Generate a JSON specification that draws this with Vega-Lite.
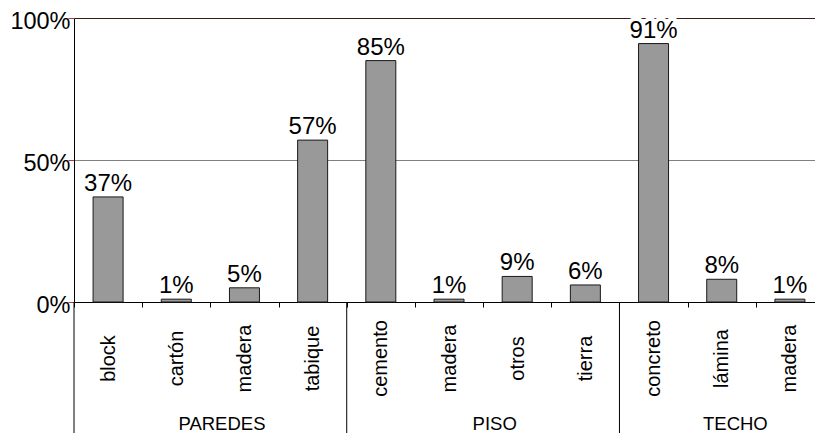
{
  "$schema": "https://vega.github.io/schema/vega-lite/v6.json",
  "width": 741,
  "height": 284,
  "autosize": {"type": "none"},
  "padding": {"left": 74, "top": 18, "right": 0, "bottom": 131},
  "background": "white",
  "config": {"view": {"stroke": null}, "font": "Liberation Sans"},
  "data": {
    "values": [
      {"clave": "PAREDES|block", "grupo": "PAREDES", "material": "block", "porcentaje": 0.37},
      {"clave": "PAREDES|cartón", "grupo": "PAREDES", "material": "cartón", "porcentaje": 0.01},
      {"clave": "PAREDES|madera", "grupo": "PAREDES", "material": "madera", "porcentaje": 0.05},
      {"clave": "PAREDES|tabique", "grupo": "PAREDES", "material": "tabique", "porcentaje": 0.57},
      {"clave": "PISO|cemento", "grupo": "PISO", "material": "cemento", "porcentaje": 0.85},
      {"clave": "PISO|madera", "grupo": "PISO", "material": "madera", "porcentaje": 0.01},
      {"clave": "PISO|otros", "grupo": "PISO", "material": "otros", "porcentaje": 0.09},
      {"clave": "PISO|tierra", "grupo": "PISO", "material": "tierra", "porcentaje": 0.06},
      {"clave": "TECHO|concreto", "grupo": "TECHO", "material": "concreto", "porcentaje": 0.91},
      {"clave": "TECHO|lámina", "grupo": "TECHO", "material": "lámina", "porcentaje": 0.08},
      {"clave": "TECHO|madera", "grupo": "TECHO", "material": "madera", "porcentaje": 0.01}
    ]
  },
  "encoding": {
    "x": {
      "field": "clave",
      "type": "nominal",
      "sort": null,
      "scale": {
        "domain": ["PAREDES|block", "PAREDES|cartón", "PAREDES|madera", "PAREDES|tabique", "PISO|cemento", "PISO|madera", "PISO|otros", "PISO|tierra", "TECHO|concreto", "TECHO|lámina", "TECHO|madera"],
        "range": [0, 750],
        "paddingInner": 0,
        "paddingOuter": 0
      },
      "axis": {
        "title": null,
        "grid": false,
        "domainColor": "#000000",
        "tickColor": "#000000",
        "tickSize": 5,
        "tickBand": "extent",
        "labelAngle": 270,
        "labelAlign": "center",
        "labelBaseline": "middle",
        "labelPadding": 51,
        "labelFontSize": 20,
        "labelColor": "#000000",
        "labelOverlap": false,
        "labelExpr": "split(datum.label, '|')[1]"
      }
    },
    "y": {
      "field": "porcentaje",
      "type": "quantitative",
      "scale": {"domain": [0, 1], "nice": false, "zero": true},
      "axis": {
        "title": null,
        "values": [0, 0.5, 1],
        "format": ".0%",
        "grid": true,
        "gridColor": {"condition": {"test": "datum.value === 1", "value": "#3d1a1a"}, "value": "#808080"},
        "gridWidth": 1,
        "domainColor": "#000000",
        "tickColor": "#b03a3a",
        "tickSize": 6,
        "labelFontSize": 23.5,
        "labelColor": "#000000",
        "labelPadding": -2,
        "labelOffset": 3.5
      }
    }
  },
  "layer": [
    {
      "mark": {"type": "bar", "width": {"band": 0.44}, "fill": "#999999", "stroke": "#1a1a1a", "strokeWidth": 1}
    },
    {
      "mark": {"type": "text", "baseline": "alphabetic", "dy": -6, "fontSize": 24, "fill": "#ffffff", "stroke": "#ffffff", "strokeWidth": 8, "strokeJoin": "round"},
      "encoding": {"text": {"field": "porcentaje", "type": "quantitative", "format": ".0%"}}
    },
    {
      "mark": {"type": "text", "baseline": "alphabetic", "dy": -6, "fontSize": 24, "fill": "#000000"},
      "encoding": {"text": {"field": "porcentaje", "type": "quantitative", "format": ".0%"}}
    },
    {
      "transform": [{"filter": {"field": "clave", "oneOf": ["PAREDES|block", "PISO|cemento", "TECHO|concreto"]}}],
      "mark": {"type": "rule", "color": "#000000", "strokeWidth": 1},
      "encoding": {
        "x": {"field": "clave", "type": "nominal", "sort": null, "bandPosition": 0},
        "y": {"datum": 0},
        "y2": {"datum": -0.47}
      }
    },
    {
      "transform": [{"filter": {"field": "clave", "oneOf": ["PAREDES|madera", "PISO|otros"]}}],
      "mark": {"type": "text", "baseline": "alphabetic", "align": "center", "fontSize": 18.5, "fill": "#000000"},
      "encoding": {
        "x": {"field": "clave", "type": "nominal", "sort": null, "bandPosition": 0.17},
        "y": {"datum": -0.452},
        "text": {"field": "grupo", "type": "nominal"}
      }
    },
    {
      "transform": [{"filter": {"field": "clave", "equal": "TECHO|lámina"}}],
      "mark": {"type": "text", "baseline": "alphabetic", "align": "center", "fontSize": 18.5, "fill": "#000000"},
      "encoding": {
        "x": {"field": "clave", "type": "nominal", "sort": null, "bandPosition": 0.7},
        "y": {"datum": -0.452},
        "text": {"field": "grupo", "type": "nominal"}
      }
    }
  ]
}
